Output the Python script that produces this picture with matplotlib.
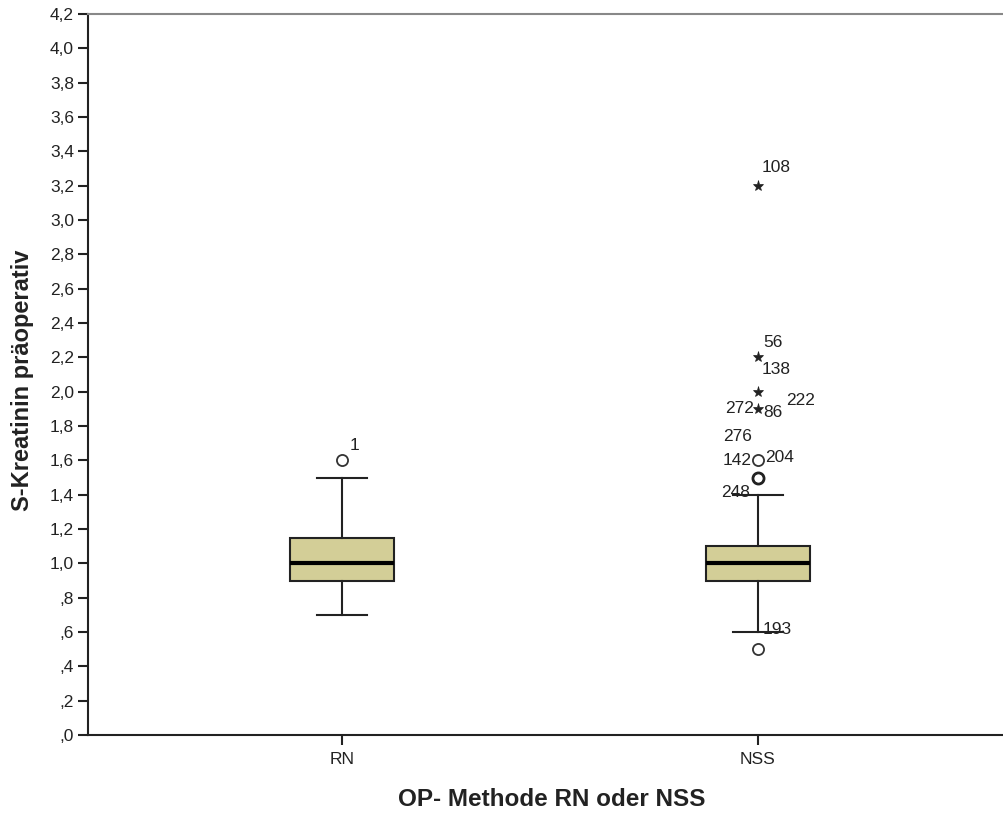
import matplotlib.pyplot as plt
from matplotlib.ticker import FuncFormatter
import numpy as np

# Box statistics
categories = ["RN", "NSS"]
q1 = [0.90, 0.90]
medians = [1.00, 1.00]
q3 = [1.15, 1.10]
whisker_lo = [0.70, 0.60]
whisker_hi = [1.50, 1.40]

# Outliers: group index, value, marker ("o" mild, "*" extreme)
out_group = [0, 1, 1, 1, 1, 1, 1, 1]
out_value = [1.6, 3.2, 2.2, 2.0, 1.9, 1.6, 1.5, 0.5]
out_marker = ["o", "*", "*", "*", "*", "o", "o", "o"]

# Case labels: group, value of point they belong to, text
lab_group = [0, 1, 1, 1, 1, 1, 1, 1, 1, 1, 1, 1]
lab_value = [1.6, 3.2, 2.2, 2.0, 1.9, 1.9, 1.9, 1.6, 1.6, 1.6, 1.5, 0.5]
lab_text = ["1", "108", "56", "138", "272", "86", "222", "276", "142", "204", "248", "193"]
# label offsets in pixels (dx, dy) and alignment
lab_dx = [8, 4, 5, 4, -4, 5, 28, -6, -6, 7, -8, 5]
lab_dy = [15, 18, 15, 22, 0, -4, 8, 24, 0, 3, -15, 20]
lab_ha = ["left", "left", "left", "left", "right", "left", "left", "right", "right", "left", "right", "left"]

BOX_COLOR = "#D3CE97"
FONT = "Liberation Sans"
INK = "#222222"

fig = plt.figure(figsize=(10.04, 8.14), dpi=100)
ax = fig.add_axes([88 / 1004, 79 / 814, 924 / 1004, 721 / 814])

positions = [1, 2]
stats = []
for i in range(len(categories)):
    stats.append({"med": medians[i], "q1": q1[i], "q3": q3[i],
                  "whislo": whisker_lo[i], "whishi": whisker_hi[i],
                  "fliers": [], "label": categories[i]})

ax.bxp(stats, positions=positions, widths=0.25, patch_artist=True,
       showfliers=False,
       boxprops=dict(facecolor=BOX_COLOR, edgecolor=INK, linewidth=1.5),
       medianprops=dict(color="black", linewidth=3),
       whiskerprops=dict(color=INK, linewidth=1.5),
       capprops=dict(color=INK, linewidth=1.5),
       capwidths=0.12)

# Outliers
for g, v, m in zip(out_group, out_value, out_marker):
    if m == "o":
        ax.plot(positions[g], v, marker="o", markersize=8, markerfacecolor="none",
                markeredgecolor="#333333", markeredgewidth=1.3, linestyle="none")
    else:
        ax.plot(positions[g], v, marker="*", markersize=8, color=INK,
                markeredgewidth=0.5, linestyle="none")
# several cases at 1.5 -> bolder ring
ax.plot(positions[1], 1.5, marker="o", markersize=8, markerfacecolor="none",
        markeredgecolor=INK, markeredgewidth=2.0, linestyle="none")

# Case labels
for g, v, t, dx, dy, ha in zip(lab_group, lab_value, lab_text, lab_dx, lab_dy, lab_ha):
    ax.annotate(t, (positions[g], v), xytext=(dx, dy), textcoords="offset pixels",
                ha=ha, va="center", fontsize=12.5, family=FONT, color=INK)

ax.set_xlim(1 - 254 / 416, 2 + 254 / 416)
ax.set_ylim(0, 4.2)
ax.set_yticks(np.arange(0, 4.21, 0.2))


def spss_fmt(v, pos):
    s = f"{v:.1f}".replace(".", ",")
    if s.startswith("0"):
        s = s[1:]
    return s


ax.yaxis.set_major_formatter(FuncFormatter(spss_fmt))
ax.set_xticks(positions)
ax.set_xticklabels(categories)
ax.tick_params(axis="both", direction="out", length=7, width=1.5, colors=INK,
               labelsize=12.5)
for lbl in ax.get_xticklabels() + ax.get_yticklabels():
    lbl.set_family(FONT)
ax.tick_params(axis="x", pad=5)
ax.tick_params(axis="y", pad=3)

ax.spines["left"].set_color(INK)
ax.spines["bottom"].set_color(INK)
ax.spines["left"].set_linewidth(1.5)
ax.spines["bottom"].set_linewidth(1.5)
ax.spines["top"].set_color("#888888")
ax.spines["top"].set_linewidth(1.5)
ax.spines["right"].set_visible(False)

fig.text(23 / 1004, 1 - 380 / 814, "S-Kreatinin präoperativ", rotation=90,
         ha="center", va="center", fontsize=17, fontweight="bold", family=FONT,
         color=INK)
fig.text(552 / 1004, 1 - 800 / 814, "OP- Methode RN oder NSS", ha="center",
         va="center", fontsize=17.5, fontweight="bold", family=FONT, color=INK)

fig.savefig("out.png", dpi=100)
